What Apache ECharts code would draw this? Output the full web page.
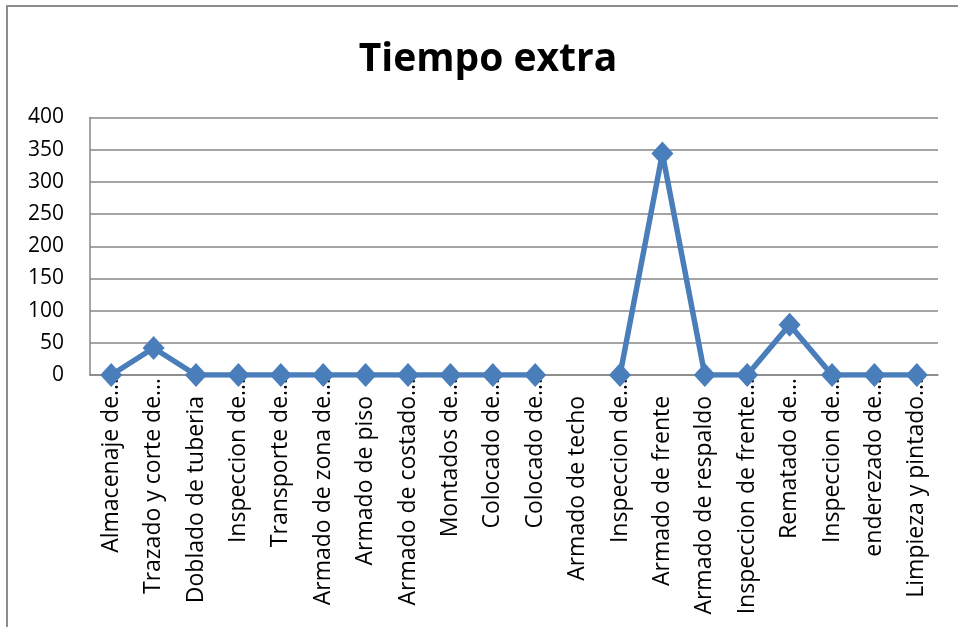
<!DOCTYPE html>
<html>
<head>
<meta charset="utf-8">
<script src="https://cdn.jsdelivr.net/npm/echarts@6/dist/echarts.min.js"></script>
<style>
html,body{margin:0;padding:0;background:#fff;}
#chart{width:958px;height:627px;}
</style>
</head>
<body>
<div id="chart"></div>
<script>
const chartTitle = "Tiempo extra";
const categories = [
  "Almacenaje de…", "Trazado y corte de…", "Doblado de tuberia", "Inspeccion de…",
  "Transporte de…", "Armado de zona de…", "Armado de piso", "Armado de costado…",
  "Montados de…", "Colocado de…", "Colocado de…", "Armado de techo",
  "Inspeccion de…", "Armado de frente", "Armado de respaldo", "Inspeccion de frente…",
  "Rematado de…", "Inspeccion de…", "enderezado de…", "Limpieza y pintado…"
];
const values = [0, 42, 0, 0, 0, 0, 0, 0, 0, 0, 0, null, 0, 344, 0, 0, 78, 0, 0, 0];
const yMin = 0, yMax = 400, yStep = 50;

const FONT = "'Open Sans', 'Noto Sans', sans-serif";
const chart = echarts.init(document.getElementById('chart'), null, {renderer: 'canvas'});
chart.setOption({
  backgroundColor: '#ffffff',
  animation: false,
  title: {
    text: chartTitle,
    left: 483,
    textAlign: 'center',
    top: 35,
    textStyle: {fontFamily: FONT, fontWeight: 'bold', fontSize: 39, color: '#000'}
  },
  graphic: [{
    type: 'rect', z: -10, silent: true,
    shape: {x: 7, y: 6, width: 1200, height: 1200},
    style: {fill: 'none', stroke: '#8c8c8c', lineWidth: 2}
  }],
  grid: {left: 90, right: 20, top: 117.5, bottom: 252, containLabel: false},
  xAxis: {
    type: 'category',
    data: categories,
    boundaryGap: true,
    axisLine: {show: true, lineStyle: {color: '#868686', width: 1.5}},
    axisTick: {show: false},
    axisLabel: {
      interval: 0, rotate: 90, margin: 3,
      fontFamily: FONT, fontSize: 23, color: '#000',
      formatter: function (v) {
        return v.endsWith('…') ? v : v + '{h|…}';
      },
      rich: {h: {color: 'rgba(0,0,0,0)', fontFamily: FONT, fontSize: 23}}
    }
  },
  yAxis: {
    type: 'value',
    min: yMin, max: yMax, interval: yStep,
    axisLine: {show: true, lineStyle: {color: '#868686', width: 1.5}},
    axisTick: {show: false},
    axisLabel: {fontFamily: FONT, fontSize: 21, color: '#000', margin: 26},
    splitLine: {show: true, lineStyle: {color: '#868686', width: 1.5}}
  },
  series: [{
    type: 'line',
    data: values,
    connectNulls: false,
    symbol: 'diamond',
    symbolSize: [22, 24],
    lineStyle: {color: '#4a7ebb', width: 5.5},
    itemStyle: {color: '#4a7ebb'}
  }]
});
</script>
</body>
</html>
